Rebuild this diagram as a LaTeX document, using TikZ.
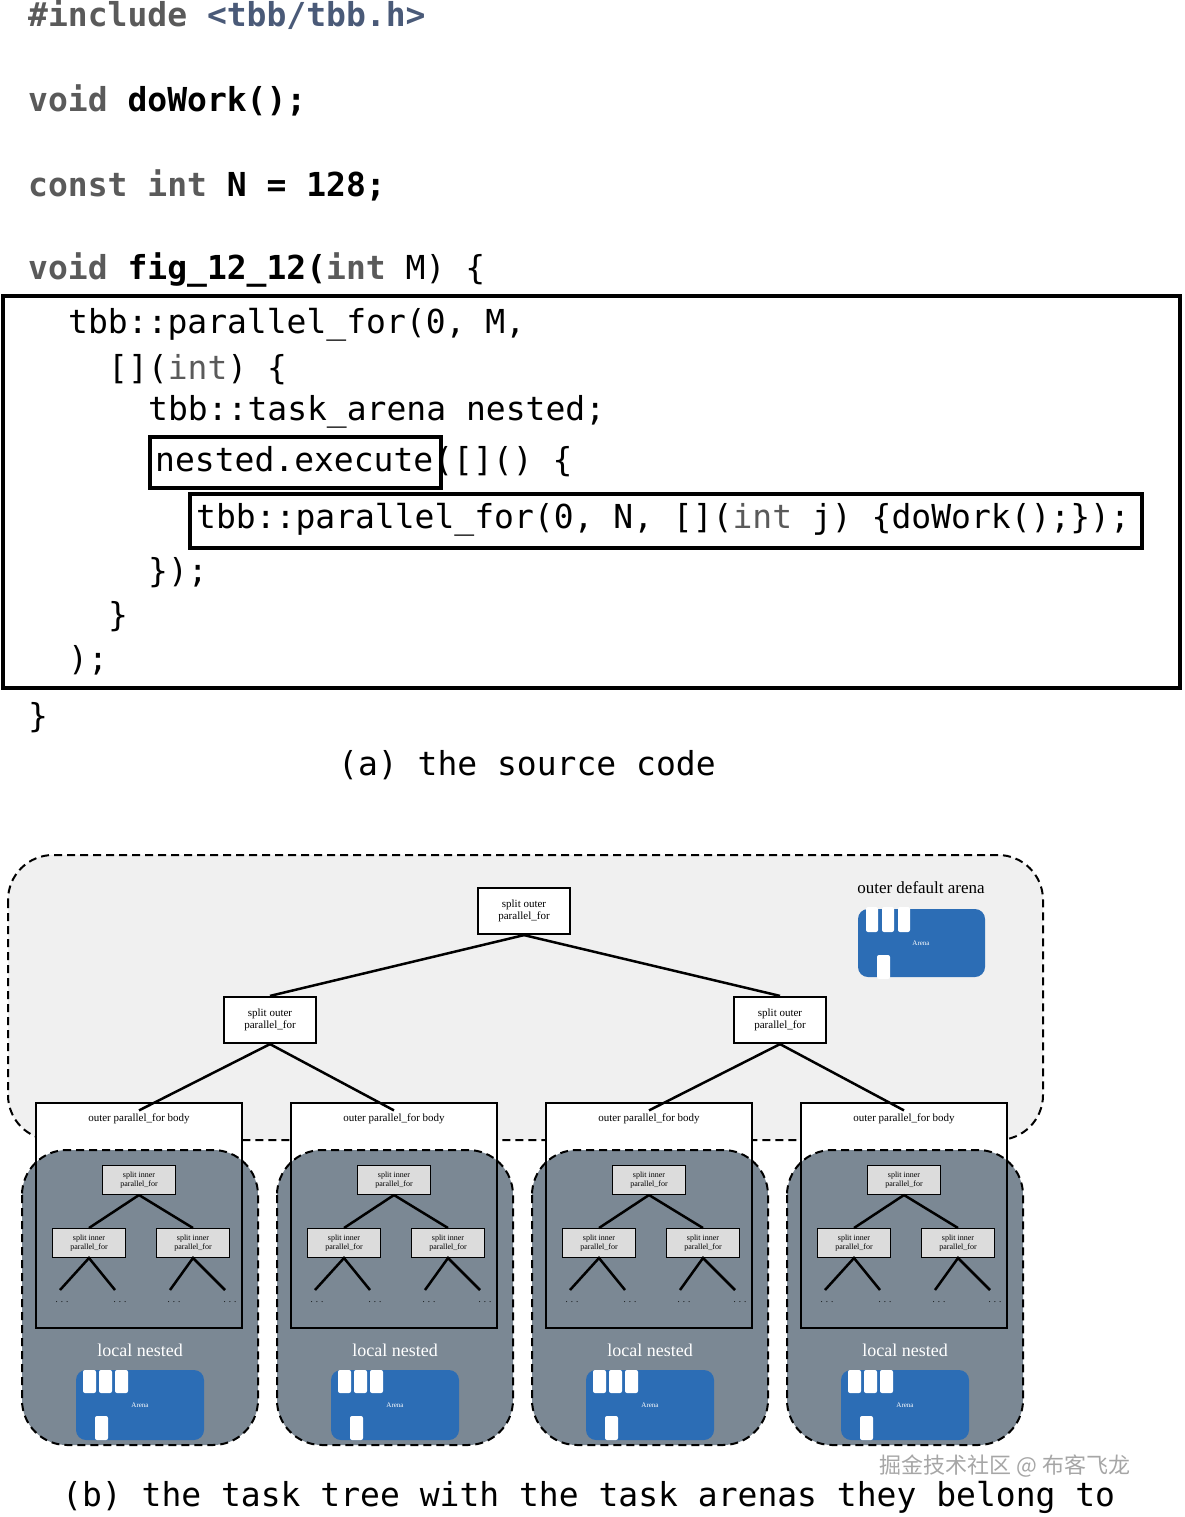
\documentclass[tikz,border=0pt]{standalone}
\usepackage{fontspec}
\setmainfont{Liberation Serif}
\setmonofont{DejaVu Sans Mono}
\newfontfamily\cjk{Noto Sans CJK SC}
\usetikzlibrary{positioning}
\definecolor{kwgray}{HTML}{5A5A5A}
\definecolor{incblue}{HTML}{4A5A78}
\definecolor{arenablue}{HTML}{2C6DB5}
\definecolor{localgray}{HTML}{7B8894}
\definecolor{outerfill}{HTML}{F0F0F0}
\definecolor{innerfill}{HTML}{DCDCDC}
\tikzset{code/.style={anchor=west,inner sep=0pt,font=\fontsize{33}{40}\selectfont\ttfamily}}
\tikzset{codebox/.style={draw=black,line width=4.5pt}}
\tikzset{task/.style={draw=black,line width=2.2pt,fill=white,minimum width=92pt,minimum height=46pt,align=center,inner sep=1pt,font=\fontsize{11}{12}\selectfont}}
\tikzset{itask/.style={draw=black,line width=1pt,fill=innerfill,minimum width=73pt,minimum height=29pt,align=center,inner sep=1pt,font=\fontsize{8}{8.5}\selectfont}}
\tikzset{edge/.style={line width=2.5pt}}
\tikzset{arena/.style={draw=black,line width=2pt,dashed,dash pattern=on 8pt off 5pt,rounded corners=45pt}}
\tikzset{tab/.style={fill=white,rounded corners=2pt}}
\newcommand{\kw}[1]{\textcolor{kwgray}{#1}}
\begin{document}
\begin{tikzpicture}[x=1pt,y=-1pt]
\useasboundingbox (0,0) rectangle (1184,1517);
% the source code
\node[code] (l1) at (28,15) {\bfseries\kw{\#include} \textcolor{incblue}{<tbb/tbb.h>}};
\node[code] (l2) at (28,100) {\bfseries\kw{void} doWork();};
\node[code] (l3) at (28,185) {\bfseries\kw{const int} N = 128;};
\node[code] (l4) at (28,270) {\bfseries\kw{void} fig\_12\_12(\kw{int} \mdseries M) \{};
\node[code] (l5) at (68,325) {tbb::parallel\_for(0, M,};
\node[code] (l6) at (108,370) {[](\kw{int}) \{};
\node[code] (l7) at (148,412) {tbb::task\_arena nested;};
\node[code] (l8) at (155,462) {nested.execute([]() \{};
\node[code] (l9) at (196,520) {tbb::parallel\_for(0, N, [](\kw{int} j) \{doWork();\});};
\node[code] (l10) at (148,573) {\});};
\node[code] (l11) at (108,617) {\}};
\node[code] (l12) at (68,660) {);};
\node[code] (l13) at (28,718) {\}};
\node[code] (capa) at (338,765) {(a) the source code};
\draw[codebox] (3,296) rectangle (1180,688);
\draw[codebox] (150,437) rectangle (441,488);
\draw[codebox] (190,494) rectangle (1142,548);
% the task tree
\draw[arena,fill=outerfill] (8,855) rectangle (1043,1140);
\node[font=\fontsize{17}{18}\selectfont] (olabel) at (921,888) {outer default arena};
\fill[arenablue,rounded corners=10pt] (858,909) rectangle (985,977);
\foreach \tx in {866,882,898} \fill[tab] (\tx,907) rectangle +(12,25);
\fill[tab] (877,955) rectangle (890,979);
\node[text=white,font=\fontsize{7}{7}\selectfont] at (921,943) {Arena};
\node[task] (root) at (524,911) {split outer\\parallel\_for};
\node[task] (midl) at (270,1020) {split outer\\parallel\_for};
\node[task] (midr) at (780,1020) {split outer\\parallel\_for};
\draw[edge] (root.south) -- (midl.north);
\draw[edge] (root.south) -- (midr.north);
\foreach \i/\mid in {0/midl,1/midl,2/midr,3/midr} {
  \pgfmathsetmacro{\ox}{255*\i}
  \begin{scope}[xshift=\ox]
    \fill[white] (36,1103) rectangle (242,1328);
    \draw[arena,fill=localgray] (22,1150) rectangle (258,1445);
    \draw[line width=2.5pt] (36,1103) rectangle (242,1328);
    \node[font=\fontsize{11}{12}\selectfont] (body\i) at (139,1119) {outer parallel\_for body};
    \node[itask] (ir\i) at (139,1180) {split inner\\parallel\_for};
    \node[itask] (il\i) at (89,1243) {split inner\\parallel\_for};
    \node[itask] (iq\i) at (193,1243) {split inner\\parallel\_for};
    \draw[edge] (ir\i.south) -- (il\i.north);
    \draw[edge] (ir\i.south) -- (iq\i.north);
    \draw[edge] (60,1290) -- (il\i.south) -- (115,1290);
    \draw[edge] (170,1290) -- (iq\i.south) -- (225,1290);
    \foreach \dx in {62,120,174,230} \node[font=\fontsize{9}{9}\selectfont] at (\dx,1302) {. . .};
    \node[text=white,font=\fontsize{18}{19}\selectfont] (ln\i) at (140,1350) {local nested};
    \fill[arenablue,rounded corners=10pt] (76,1370) rectangle (204,1440);
    \foreach \tx in {83,99,115} \fill[tab] (\tx,1370) rectangle +(13,23);
    \fill[tab] (95,1416) rectangle (108,1440);
    \node[text=white,font=\fontsize{7}{7}\selectfont] at (140,1405) {Arena};
  \end{scope}
}
\draw[edge] (midl.south) -- (body0.north);
\draw[edge] (midl.south) -- (body1.north);
\draw[edge] (midr.south) -- (body2.north);
\draw[edge] (midr.south) -- (body3.north);
\node[text=gray!70,font=\cjk\fontsize{22}{22}\selectfont] (wm) at (1005,1466) {掘金技术社区 @ 布客飞龙};
\node[code] (capb) at (62,1497) {(b) the task tree with the task arenas they belong to};
\end{tikzpicture}
\end{document}
